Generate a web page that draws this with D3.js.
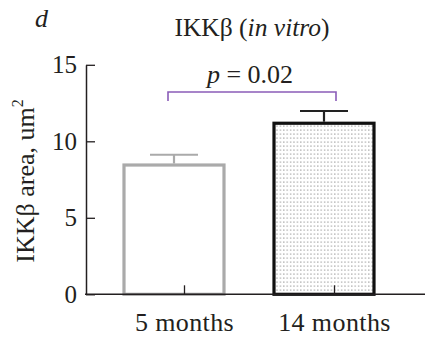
<!DOCTYPE html>
<html>
<head>
<meta charset="utf-8">
<script src="https://cdn.jsdelivr.net/npm/d3@7"></script>
<style>
  body { margin: 0; background: #fff; }
  svg text { font-family: "Liberation Serif", "Times New Roman", serif; fill: #231f20; }
</style>
</head>
<body>
<svg id="chart" width="425" height="338"></svg>
<script>
// chart data
var groups   = ["5 months", "14 months"];
var means    = [8.45, 11.18];
var errTops  = [9.12, 11.98];
var yTicks   = [0, 5, 10, 15];
var pLabel   = "0.02";

var svg = d3.select("#chart");

// scales
var y = d3.scaleLinear().domain([0, 15]).range([294.3, 64.8]);
var x = d3.scaleBand().domain(groups).range([99, 399])
    .paddingInner(1/3).paddingOuter(1/6);

// dotted fill for the second bar
var defs = svg.append("defs");
var pat = defs.append("pattern")
    .attr("id", "dots")
    .attr("patternUnits", "userSpaceOnUse")
    .attr("width", 3.4).attr("height", 4);
pat.append("rect").attr("width", 3.4).attr("height", 4).attr("fill", "#fff");
pat.append("rect").attr("x", 1).attr("y", 1.5).attr("width", 1.2).attr("height", 1.2).attr("fill", "#9a9a9a");

var barStroke = ["#aaaaaa", "#111111"];
var barFill   = ["#ffffff", "url(#dots)"];

// bars
svg.selectAll(".bar")
  .data(groups)
  .enter().append("rect")
    .attr("class", "bar")
    .attr("x", function(d) { return x(d); })
    .attr("y", function(d, i) { return y(means[i]); })
    .attr("width", x.bandwidth())
    .attr("height", function(d, i) { return y(0) - y(means[i]); })
    .attr("fill", function(d, i) { return barFill[i]; })
    .attr("stroke", function(d, i) { return barStroke[i]; })
    .attr("stroke-width", 3.2);

// error bars
var err = svg.selectAll(".err")
  .data(groups)
  .enter().append("g")
    .attr("class", "err")
    .attr("stroke", function(d, i) { return i == 0 ? "#aaaaaa" : "#222"; })
    .attr("stroke-width", 2.2);
err.append("line")
    .attr("x1", function(d) { return x(d) + x.bandwidth() / 2; })
    .attr("x2", function(d) { return x(d) + x.bandwidth() / 2; })
    .attr("y1", function(d, i) { return y(means[i]) - 1.5; })
    .attr("y2", function(d, i) { return y(errTops[i]); });
err.append("line")
    .attr("x1", function(d) { return x(d) + x.bandwidth() / 2 - 24; })
    .attr("x2", function(d) { return x(d) + x.bandwidth() / 2 + 24; })
    .attr("y1", function(d, i) { return y(errTops[i]); })
    .attr("y2", function(d, i) { return y(errTops[i]); });

var serif = "'Liberation Serif', 'Times New Roman', serif";

// y axis
var yAxis = svg.append("g")
    .attr("transform", "translate(86,0)")
    .call(d3.axisLeft(y).tickValues(yTicks).tickFormat(d3.format("d"))
      .tickSizeInner(-9).tickSizeOuter(0).tickPadding(9));
yAxis.attr("font-family", serif).attr("font-size", 25);
yAxis.select(".domain").attr("stroke", "#231f20").attr("stroke-width", 1.5);
yAxis.selectAll(".tick line").attr("stroke", "#231f20").attr("stroke-width", 1.3);
yAxis.selectAll(".tick text").attr("fill", "#231f20");

// x axis (ticks sit a little right of the bar centres, like the original)
var xAxis = svg.append("g")
    .attr("transform", "translate(10.5," + y(0) + ")")
    .call(d3.axisBottom(x).tickSizeInner(-9).tickSizeOuter(0).tickPadding(18));
xAxis.attr("font-family", serif).attr("font-size", 26);
xAxis.select(".domain").remove();
xAxis.selectAll(".tick line").attr("stroke", "#231f20").attr("stroke-width", 1.3);
xAxis.selectAll(".tick text").attr("fill", "#231f20").attr("letter-spacing", 0.4);

svg.append("line")
    .attr("x1", 85).attr("x2", 425)
    .attr("y1", y(0)).attr("y2", y(0))
    .attr("stroke", "#231f20").attr("stroke-width", 1.5);

// y label
var yl = svg.append("text")
    .attr("transform", "translate(34,181) rotate(-90)")
    .attr("text-anchor", "middle")
    .attr("font-size", 26);
yl.append("tspan").text("IKK\u03b2 area, um");
yl.append("tspan").attr("font-size", 16).attr("dy", -11).text("2");

// panel letter
svg.append("text")
    .attr("x", 35).attr("y", 27)
    .attr("font-size", 26).attr("font-style", "italic")
    .text("d");

// title
var t = svg.append("text")
    .attr("x", 252).attr("y", 36)
    .attr("text-anchor", "middle")
    .attr("font-size", 25.5);
t.append("tspan").text("IKK\u03b2 (");
t.append("tspan").attr("font-style", "italic").text("in vitro");
t.append("tspan").text(")");

// significance bracket
var bx1 = 168, bx2 = 336;
svg.append("path")
    .attr("d", "M" + bx1 + "," + 101 + "V92H" + bx2 + "V101")
    .attr("fill", "none")
    .attr("stroke", "#8a5cb8")
    .attr("stroke-width", 1.6);

var p = svg.append("text")
    .attr("x", 250).attr("y", 83)
    .attr("text-anchor", "middle")
    .attr("font-size", 26);
p.append("tspan").attr("font-style", "italic").text("p");
p.append("tspan").text(" = " + pLabel);
</script>
</body>
</html>
